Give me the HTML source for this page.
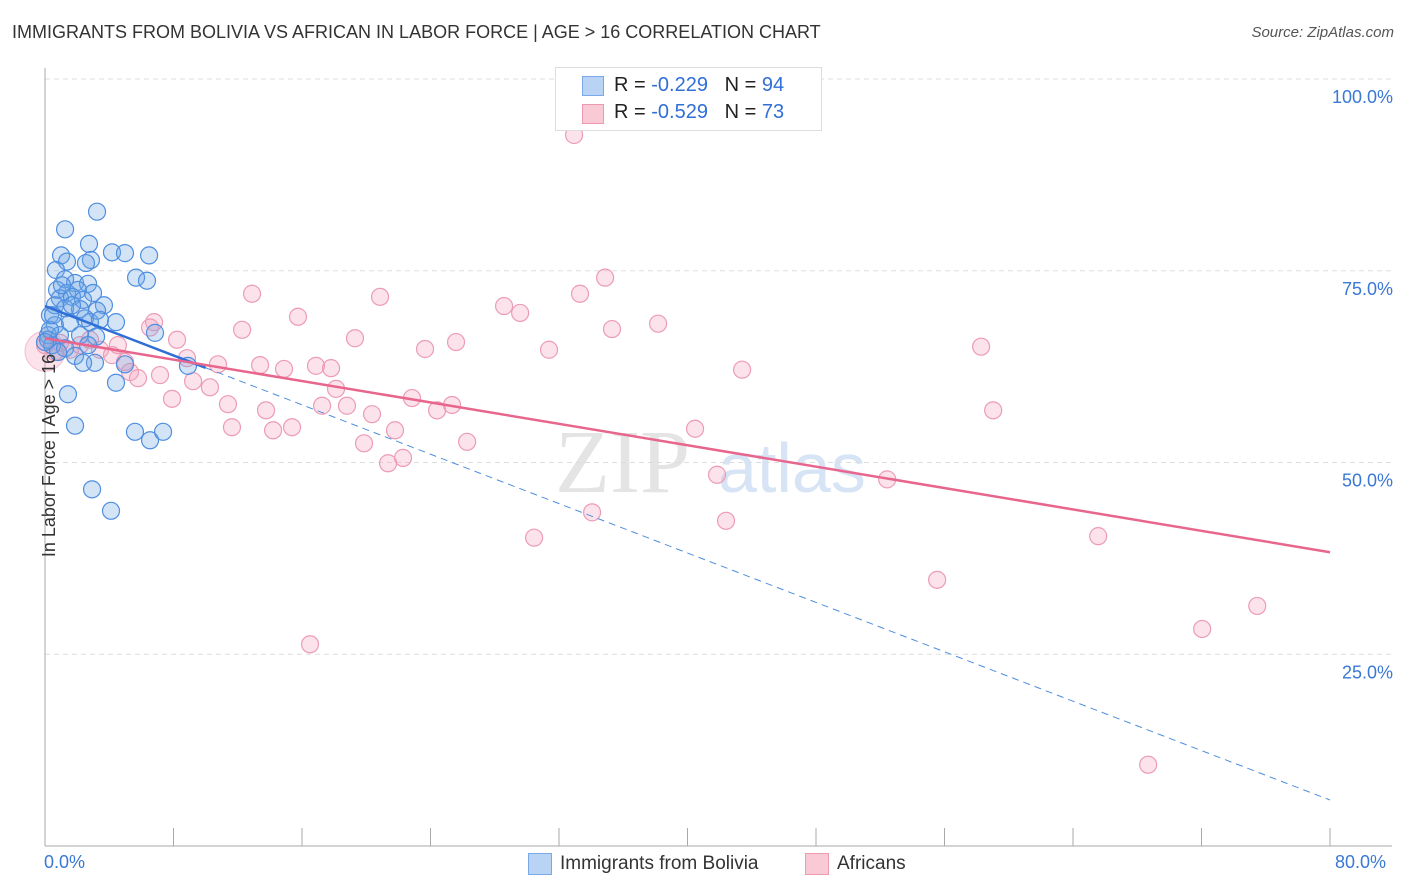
<!DOCTYPE html>
<html><head><meta charset="utf-8"><style>
body{margin:0;background:#fff;font-family:"Liberation Sans",sans-serif}
#wrap{position:relative;width:1406px;height:892px}
.t{position:absolute;white-space:nowrap}
</style></head><body><div id="wrap">
<div class="t" style="left:12px;top:22px;font-size:18px;color:#333">IMMIGRANTS FROM BOLIVIA VS AFRICAN IN LABOR FORCE | AGE &gt; 16 CORRELATION CHART</div>
<div class="t" style="right:12px;top:24px;font-size:15px;color:#555;font-style:italic">Source: ZipAtlas.com</div>
<svg id="plot" width="1406" height="892" style="position:absolute;left:0;top:0">
<text x="555" y="492" font-size="90" fill="#e4e4e4" font-family="Liberation Serif">ZIP</text>
<text x="718" y="492" font-size="70" fill="#d6e4f5">atlas</text>
</svg>
<div style="position:absolute;left:555px;top:67px;width:265px;height:62px;border:1px solid #ddd;background:#fff;font-size:20px">
<div style="position:absolute;left:26px;top:8px;width:20px;height:18px;background:#b9d3f5;border:1px solid #7aa8e8"></div>
<div class="t" style="left:58px;top:6px;color:#222">R = <span style="color:#2f6fd6">-0.229</span>&nbsp;&nbsp;&nbsp;N = <span style="color:#2f6fd6">94</span></div>
<div style="position:absolute;left:26px;top:36px;width:20px;height:18px;background:#f9c9d6;border:1px solid #eb9ab2"></div>
<div class="t" style="left:58px;top:33px;color:#222">R = <span style="color:#2f6fd6">-0.529</span>&nbsp;&nbsp;&nbsp;N = <span style="color:#2f6fd6">73</span></div>
</div>
<div class="t" style="left:-52px;top:445px;font-size:18px;color:#333;transform:rotate(-90deg)">In Labor Force | Age &gt; 16</div>
<div class="t" style="left:44px;top:852px;font-size:18px;color:#3a78d6">0.0%</div>
<div class="t" style="left:1335px;top:852px;font-size:18px;color:#3a78d6">80.0%</div>
<div>
<div style="position:absolute;left:528px;top:853px;width:22px;height:20px;background:#b9d3f5;border:1px solid #7aa8e8"></div>
<div class="t" style="left:560px;top:853px;font-size:19px;color:#333">Immigrants from Bolivia</div>
<div style="position:absolute;left:805px;top:853px;width:22px;height:20px;background:#f9c9d6;border:1px solid #eb9ab2"></div>
<div class="t" style="left:837px;top:853px;font-size:19px;color:#333">Africans</div>
</div>
</div>
<script>
const yTicks=[25,50,75,100];
const yTickLabels=["25.0%","50.0%","75.0%","100.0%"];
const blueX=[3.24,1.25,2.74,1.0,4.17,4.98,6.48,1.37,2.86,2.55,0.68,5.67,6.35,1.25,1.87,2.68,0.75,1.37,2.05,2.99,0.93,1.68,2.37,3.67,0.62,1.25,2.18,3.24,4.42,0.31,0.62,1.56,2.8,0.19,0.93,2.18,3.18,0.44,1.25,2.68,0.19,6.85,1.87,3.11,2.37,4.98,8.9,4.42,1.43,1.87,5.6,6.54,7.35,2.93,4.11,0.31,0.5,1.06,1.68,2.49,3.42,0.81,0];
const blueY=[82.7,80.4,78.5,77.0,77.4,77.3,77.0,76.2,76.4,76.0,75.1,74.1,73.7,73.9,73.4,73.3,72.5,72.1,72.5,72.1,71.4,71.6,71.2,70.5,70.5,70.1,70.0,69.8,68.3,69.2,67.9,68.2,68.3,66.6,66.6,66.6,66.4,65.3,64.9,65.3,66.0,66.9,63.9,63.0,63.0,62.8,62.6,60.4,58.9,54.8,54.0,52.9,54.0,46.5,43.7,67.3,69.2,73.1,70.5,68.8,68.6,64.4,65.7];
const pinkX=[32.94,34.87,12.89,20.86,28.58,33.31,29.58,15.75,6.79,35.3,38.17,12.27,19.3,25.59,8.22,23.66,31.38,58.28,0,0.93,2.18,3.42,4.17,4.98,5.29,5.79,7.16,8.84,10.77,13.39,14.88,16.87,17.81,9.22,10.27,18.12,7.91,11.39,13.76,17.25,18.8,20.36,22.85,24.41,25.34,11.64,14.2,15.38,21.79,19.86,26.28,22.29,21.36,40.47,43.4,59.03,41.84,52.43,34.06,42.4,30.45,65.57,55.54,75.47,72.04,16.5,68.68,6.54,1.56,2.8,4.54,0.62];
const pinkY=[92.7,74.1,72.0,71.6,70.4,72.0,69.5,69.0,68.3,67.4,68.1,67.3,66.2,65.7,66.0,64.8,64.7,65.1,65.3,65.6,65.3,64.7,64.0,63.1,61.8,61.0,61.4,63.6,62.8,62.7,62.2,62.6,62.3,60.6,59.8,59.6,58.3,57.6,56.8,57.4,57.4,56.3,58.4,56.8,57.5,54.6,54.2,54.6,54.2,52.5,52.7,50.6,49.9,54.4,62.1,56.8,48.4,47.8,43.5,42.4,40.2,40.4,34.7,31.3,28.3,26.3,10.6,67.6,64.7,66.0,65.3,64.4];
const blueTrend=[70.4,6.0];
const pinkTrend=[66.2,38.3];
const NS="http://www.w3.org/2000/svg";
const svg=document.getElementById('plot');
const X=v=>45+v*(1285/80);
const Y=v=>846-v*7.67;
function mk(t,a){const e=document.createElementNS(NS,t);for(const k in a)e.setAttribute(k,a[k]);svg.appendChild(e);return e;}
yTicks.forEach((t,i)=>{
 const g=mk('line',{x1:45,x2:1392,y1:Y(t),y2:Y(t),stroke:'#ddd','stroke-dasharray':'5,4'});
 
 
 const tx=mk('text',{x:1393,y:Y(t)+24,'text-anchor':'end','font-size':18,fill:'#3a78d6'});
 tx.textContent=yTickLabels[i];
 
 
});
const ax=mk('line',{x1:45,x2:45,y1:68,y2:846,stroke:'#aaa'});


const bx=mk('line',{x1:45,x2:1392,y1:846,y2:846,stroke:'#aaa'});


for(let i=1;i<=10;i++){const tk=mk('line',{x1:X(i*8),x2:X(i*8),y1:828,y2:846,stroke:'#aaa'});
 
 }
const big=mk('circle',{cx:X(0),cy:Y(64.5),r:20,fill:'rgba(244,160,188,0.3)',stroke:'rgba(232,140,170,0.5)'});


pinkX.forEach((x,i)=>{const c=mk('circle',{cx:X(x),cy:Y(pinkY[i]),r:8.5,fill:'rgba(244,160,188,0.3)',stroke:'#ec9cb4','stroke-width':1.2});
 
 });
blueX.forEach((x,i)=>{const c=mk('circle',{cx:X(x),cy:Y(blueY[i]),r:8.5,fill:'rgba(110,165,230,0.3)',stroke:'#4f8ee0','stroke-width':1.2});
 
 });
const by=x=>blueTrend[0]+(blueTrend[1]-blueTrend[0])*x/80;
const bd=mk('line',{x1:X(10),y1:Y(by(10)),x2:X(80),y2:Y(by(80)),stroke:'#4f8ee0','stroke-width':1,'stroke-dasharray':'7,5'});


const bs=mk('line',{x1:X(0),y1:Y(by(0)),x2:X(10),y2:Y(by(10)),stroke:'#2f6fd6','stroke-width':2.5});


const pl=mk('line',{x1:X(0),y1:Y(pinkTrend[0]),x2:X(80),y2:Y(pinkTrend[1]),stroke:'#e8668e','stroke-width':2.5});


</script>
</body></html>
